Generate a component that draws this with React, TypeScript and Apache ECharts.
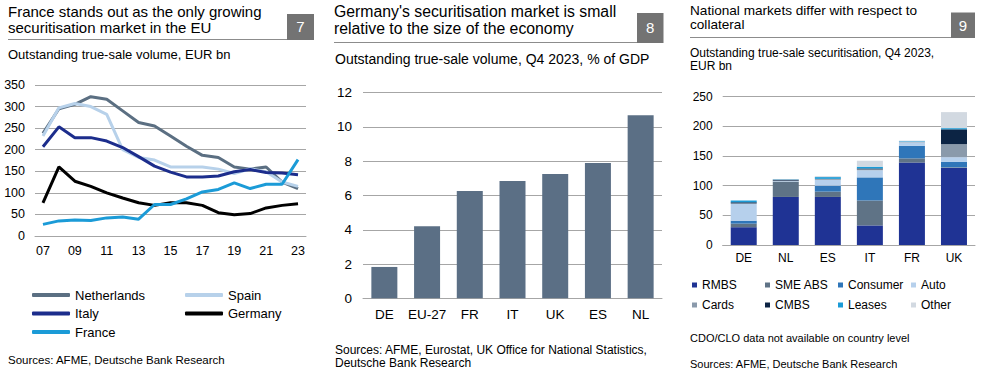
import React, { useEffect, useRef } from "react";
import * as echarts from "echarts";

const FONT = '"Liberation Sans", Arial, sans-serif';

// Chart 7: outstanding true-sale volume, EUR bn
const years = ["07", "08", "09", "10", "11", "12", "13", "14", "15", "16", "17", "18", "19", "20", "21", "22", "23"];
const netherlands = [238, 295, 305, 323, 317, 290, 263, 255, 232, 208, 187, 182, 160, 155, 160, 125, 110];
const spain = [232, 297, 307, 300, 282, 200, 182, 176, 160, 160, 160, 155, 145, 156, 149, 125, 115];
const italy = [207, 253, 228, 228, 220, 205, 184, 162, 148, 137, 137, 139, 149, 154, 147, 146, 142];
const germany = [77, 160, 127, 115, 100, 88, 77, 71, 77, 77, 71, 54, 49, 52, 65, 71, 75];
const france = [27, 35, 37, 36, 42, 44, 39, 73, 73, 86, 102, 108, 123, 110, 120, 120, 177];
const leftTicks = [0, 350, 50];

// Chart 8: % of GDP
const gdpCats = ["DE", "EU-27", "FR", "IT", "UK", "ES", "NL"];
const gdpVals = [1.83, 4.2, 6.26, 6.85, 7.26, 7.9, 10.68];

// Chart 9: by collateral, EUR bn
const colCats = ["DE", "NL", "ES", "IT", "FR", "UK"];
const rmbs = [30, 81, 81, 33, 139, 130];
const sme = [6, 26, 9, 42, 7, 1];
const consumer = [5, 0, 10, 39, 21, 9];
const auto = [29, 1, 10, 12, 6, 8];
const cards = [0, 0.5, 1, 1.5, 1, 22];
const cmbs = [2, 1.5, 0.5, 1.5, 0, 25];
const leases = [3, 0.5, 3, 3, 1, 2];
const other = [0, 0, 1.5, 10, 1, 27];

const lineSeries = [
  { name: "Netherlands", data: netherlands, color: "#5b6f82" },
  { name: "Spain", data: spain, color: "#b7d1ea" },
  { name: "Italy", data: italy, color: "#1c2d8c" },
  { name: "Germany", data: germany, color: "#000000" },
  { name: "France", data: france, color: "#1b9bd7" },
];
const stackSeries = [
  { name: "RMBS", data: rmbs, color: "#1f3394" },
  { name: "SME ABS", data: sme, color: "#5f7386" },
  { name: "Consumer", data: consumer, color: "#2f76b9" },
  { name: "Auto", data: auto, color: "#b6d0ec" },
  { name: "Cards", data: cards, color: "#8a9aab" },
  { name: "CMBS", data: cmbs, color: "#0c2444" },
  { name: "Leases", data: leases, color: "#1b9bd7" },
  { name: "Other", data: other, color: "#d2d9e1" },
];

const GRID = "#a6a6a6";

function txt(x: number, y: number, text: string, size: number, fill = "#000", align = "left") {
  return {
    type: "text",
    x,
    y,
    style: {
      text,
      fill,
      font: `${size}px ${FONT}`,
      fontSize: size,
      fontFamily: FONT,
      align,
      textAlign: align,
      verticalAlign: "middle",
      textVerticalAlign: "middle",
    },
    silent: true,
  };
}

function header(x0: number, lines: string[], lineYs: number[], size: number, ruleY: number, boxX: number, boxW: number, boxTop: number, num: string) {
  const els: any[] = lines.map((l, i) => txt(x0, lineYs[i], l, size));
  els.push({ type: "line", shape: { x1: x0, y1: ruleY, x2: boxX, y2: ruleY }, style: { stroke: "#8c8c8c", lineWidth: 1 }, silent: true });
  els.push({ type: "rect", shape: { x: boxX, y: boxTop, width: boxW, height: ruleY - boxTop + 0.5 }, style: { fill: "#737373" }, silent: true });
  els.push(txt(boxX + boxW / 2, (boxTop + ruleY) / 2, num, 15, "#fff", "center"));
  return els;
}

function valueAxis(gridIndex: number, min: number, max: number, interval: number, size: number, margin: number) {
  return {
    type: "value",
    gridIndex,
    min,
    max,
    interval,
    axisLine: { show: false },
    axisTick: { show: false },
    splitLine: { lineStyle: { color: GRID, width: 1 } },
    axisLabel: { color: "#000", fontSize: size, fontFamily: FONT, margin },
  };
}

function catAxis(gridIndex: number, data: string[], size: number, margin: number, interval: number | "auto" = 0) {
  return {
    type: "category",
    gridIndex,
    data,
    boundaryGap: true,
    axisLine: { show: true, lineStyle: { color: GRID, width: 1 } },
    axisTick: { show: false },
    axisLabel: { color: "#000", fontSize: size, fontFamily: FONT, margin, interval },
  };
}

export default function App() {
  const ref = useRef<HTMLDivElement>(null);
  useEffect(() => {
    if (!ref.current) return;
    const chart = echarts.init(ref.current, null, { renderer: "svg" });

    const legends: any[] = [];
    const leftPos = [
      [32, 288.5],
      [185, 288.5],
      [32, 307],
      [185, 307],
      [32, 325.5],
    ];
    const leftOrder = ["Netherlands", "Spain", "Italy", "Germany", "France"];
    leftOrder.forEach((n, i) => {
      legends.push({
        data: [n],
        left: leftPos[i][0],
        top: leftPos[i][1],
        padding: 0,
        icon: "roundRect",
        itemWidth: 38,
        itemHeight: 4,
        selectedMode: false,
        textStyle: { fontSize: 13, fontFamily: FONT, color: "#000" },
      });
    });
    const rCols = [692, 765, 838, 911];
    const rRows = [279, 299];
    stackSeries.forEach((s, i) => {
      legends.push({
        data: [s.name],
        left: rCols[i % 4],
        top: rRows[Math.floor(i / 4)],
        padding: 0,
        icon: "rect",
        itemWidth: 5,
        itemHeight: 5,
        itemGap: 0,
        selectedMode: false,
        textStyle: { fontSize: 12, fontFamily: FONT, color: "#000" },
      });
    });

    const graphics: any[] = [
      ...header(8, ["France stands out as the only growing", "securitisation market in the EU"], [11.5, 27.5], 15, 39.5, 287, 27, 14, "7"),
      txt(8, 54.5, "Outstanding true-sale volume, EUR bn", 13),
      txt(8, 360, "Sources: AFME, Deutsche Bank Research", 11.5),
      ...header(334, ["Germany's securitisation market is small", "relative to the size of the economy"], [11.5, 28.5], 15.8, 42.5, 637, 26.5, 13, "8"),
      txt(335, 58.5, "Outstanding true-sale volume, Q4 2023, % of GDP", 14),
      txt(335, 350, "Sources: AFME, Eurostat, UK Office for National Statistics,", 12),
      txt(335, 362.5, "Deutsche Bank Research", 12),
      ...header(690, ["National markets differ with respect to", "collateral"], [10.5, 24], 13.6, 37.5, 951, 24, 12.5, "9"),
      txt(690, 53, "Outstanding true-sale securitisation, Q4 2023,", 12),
      txt(690, 66, "EUR bn", 12),
      txt(690, 338, "CDO/CLO data not available on country level", 11),
      txt(690, 364, "Sources: AFME, Deutsche Bank Research", 11),
    ];

    const series: any[] = [];
    lineSeries.forEach((s) => {
      series.push({
        type: "line",
        name: s.name,
        xAxisIndex: 0,
        yAxisIndex: 0,
        data: s.data,
        showSymbol: false,
        symbol: "none",
        lineStyle: { color: s.color, width: 3 },
        itemStyle: { color: s.color },
        emphasis: { disabled: true },
      });
    });
    series.push({
      type: "bar",
      name: "% of GDP",
      xAxisIndex: 1,
      yAxisIndex: 1,
      data: gdpVals,
      barWidth: 26,
      itemStyle: { color: "#5b6f85" },
      emphasis: { disabled: true },
    });
    stackSeries.forEach((s) => {
      series.push({
        type: "bar",
        name: s.name,
        xAxisIndex: 2,
        yAxisIndex: 2,
        stack: "col",
        data: s.data,
        barWidth: 26,
        itemStyle: { color: s.color },
        emphasis: { disabled: true },
      });
    });

    chart.setOption({
      animation: false,
      textStyle: { fontFamily: FONT },
      grid: [
        { left: 35, top: 85, width: 271, height: 151 },
        { left: 363, top: 92.7, width: 299, height: 205.6 },
        { left: 722.7, top: 96.7, width: 252.3, height: 148.3 },
      ],
      xAxis: [
        catAxis(0, years, 12.5, 8, 1),
        catAxis(1, gdpCats, 13.5, 9),
        catAxis(2, colCats, 12, 7),
      ],
      yAxis: [
        valueAxis(0, leftTicks[0], leftTicks[1], leftTicks[2], 12.5, 10),
        valueAxis(1, 0, 12, 2, 13.5, 11),
        valueAxis(2, 0, 250, 50, 12, 10),
      ],
      legend: legends,
      graphic: { elements: graphics },
      series,
    });
    return () => chart.dispose();
  }, []);
  return <div ref={ref} style={{ position: "absolute", left: 0, top: 0, width: 982, height: 375, background: "#fff" }} />;
}
